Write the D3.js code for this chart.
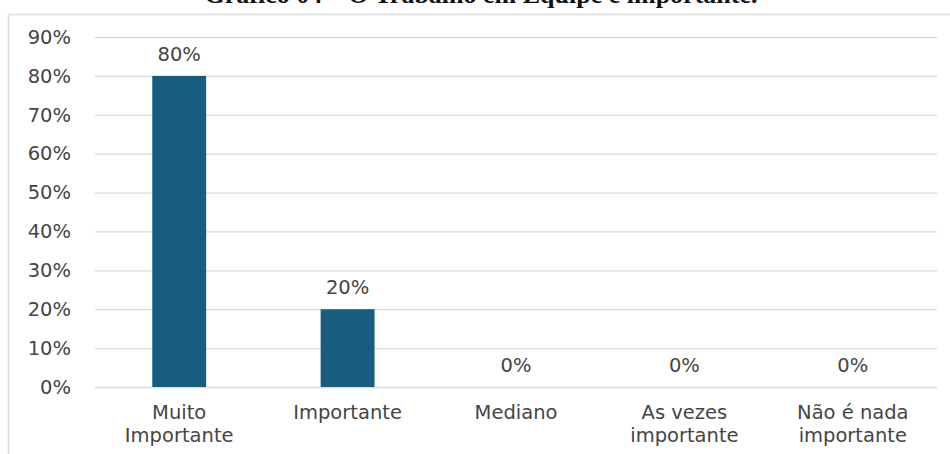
<!DOCTYPE html>
<html>
<head>
<meta charset="utf-8">
<script src="https://cdn.jsdelivr.net/npm/d3@7"></script>
<style>
  html, body { margin: 0; padding: 0; background: #fff; }
  svg { display: block; }
</style>
</head>
<body>
<svg id="chart" width="950" height="454"></svg>
<script>
// Survey answers: how important is teamwork
const categories = [["Muito", "Importante"], ["Importante"], ["Mediano"], ["As vezes", "importante"], ["Não é nada", "importante"]];
const values = [80, 20, 0, 0, 0];
const yTicks = [0, 10, 20, 30, 40, 50, 60, 70, 80, 90];
const titleText = "Gráfico 04 – O Trabalho em Equipe é importante.";

const W = 950, H = 454;
const svg = d3.select("#chart");
const font = "'DejaVu Sans', 'Noto Sans', sans-serif";
const fontSize = 19.5;
const textColor = "#454545";

const plot = { left: 95, right: 937, top: 37, bottom: 387 };

// Frame around the chart area
svg.append("line").attr("x1", 8).attr("x2", W).attr("y1", 14.5).attr("y2", 14.5)
  .attr("stroke", "#dcdcdc").attr("stroke-width", 1.5);
svg.append("line").attr("x1", 8.5).attr("x2", 8.5).attr("y1", 14).attr("y2", H)
  .attr("stroke", "#dcdcdc").attr("stroke-width", 1.5);

// Title sits at the top edge
svg.append("text")
  .attr("x", 481).attr("y", 3)
  .attr("text-anchor", "middle")
  .attr("font-family", "'Liberation Serif', 'Times New Roman', serif")
  .attr("font-weight", "bold")
  .attr("font-size", 26)
  .attr("fill", "#111")
  .text(titleText);

const x = d3.scaleBand()
  .domain(d3.range(categories.length))
  .range([plot.left, plot.right])
  .paddingInner(0.68)
  .paddingOuter(0.34);

const y = d3.scaleLinear().domain([0, 90]).range([plot.bottom, plot.top]);

// Gridlines and y labels
const yAxis = d3.axisLeft(y)
  .tickValues(yTicks)
  .tickSize(-(plot.right - plot.left))
  .tickPadding(24)
  .tickFormat(d => d + "%");

const gy = svg.append("g")
  .attr("transform", `translate(${plot.left},0)`)
  .call(yAxis);
gy.select(".domain").remove();
gy.selectAll(".tick line").attr("stroke", "#d9d9d9").attr("stroke-width", 1.3);
gy.selectAll(".tick text")
  .attr("fill", textColor)
  .attr("font-family", font)
  .attr("font-size", fontSize);

// Bars
svg.append("g").selectAll("rect")
  .data(values)
  .join("rect")
  .attr("x", (d, i) => x(i))
  .attr("width", x.bandwidth())
  .attr("y", d => y(d))
  .attr("height", d => y(0) - y(d))
  .attr("fill", "#185d7f");

// Value labels above bars
svg.append("g").selectAll("text")
  .data(values)
  .join("text")
  .attr("x", (d, i) => x(i) + x.bandwidth() / 2)
  .attr("y", d => y(d) - 15)
  .attr("text-anchor", "middle")
  .attr("fill", textColor)
  .attr("font-family", font)
  .attr("font-size", fontSize)
  .text(d => d + "%");

// Category labels (wrapped onto two lines where needed)
const cat = svg.append("g").selectAll("text")
  .data(categories)
  .join("text")
  .attr("text-anchor", "middle")
  .attr("fill", textColor)
  .attr("font-family", font)
  .attr("font-size", fontSize);
cat.each(function (lines, i) {
  const t = d3.select(this);
  lines.forEach((ln, k) => {
    t.append("tspan")
      .attr("x", x(i) + x.bandwidth() / 2)
      .attr("y", plot.bottom + 32 + k * 23)
      .text(ln);
  });
});
</script>
</body>
</html>
